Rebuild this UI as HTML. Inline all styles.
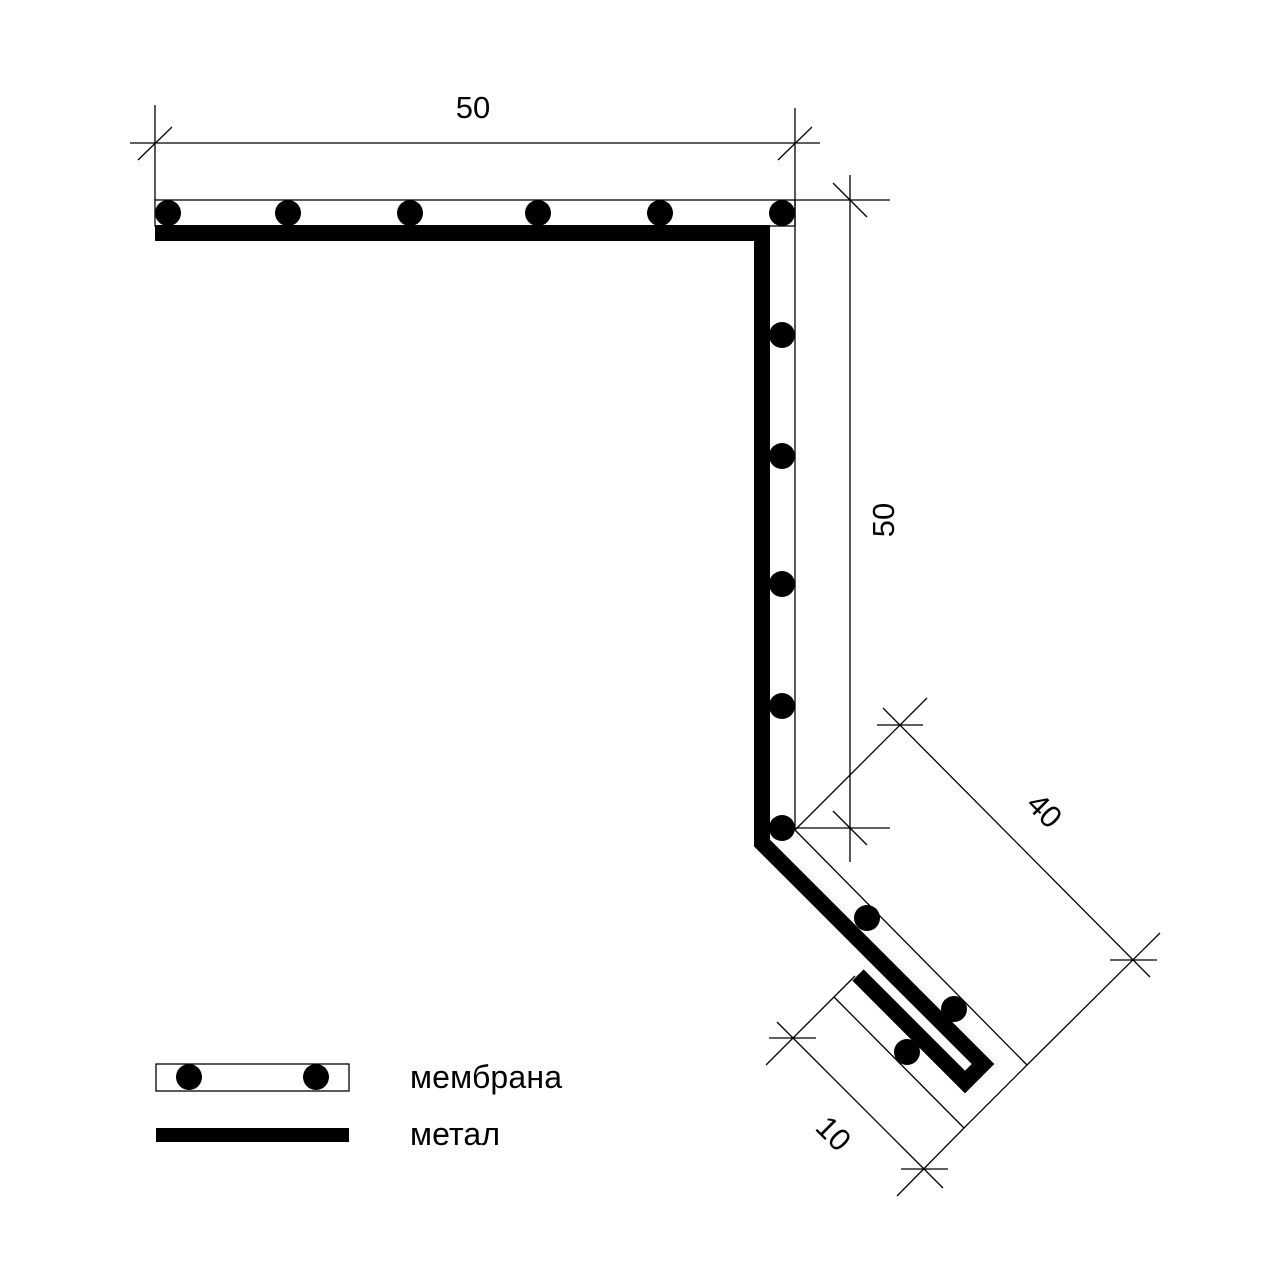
<!DOCTYPE html>
<html><head><meta charset="utf-8"><style>html,body{margin:0;padding:0;background:#fff}svg{display:block}</style></head>
<body>
<svg width="1280" height="1280" viewBox="0 0 1280 1280" xmlns="http://www.w3.org/2000/svg" font-family="'Liberation Sans','DejaVu Sans',sans-serif">
<g stroke="#000" stroke-width="1.3" fill="none">
<line x1="130" y1="143" x2="820" y2="143"/>
<line x1="155" y1="105" x2="155" y2="200"/>
<line x1="795" y1="108" x2="795" y2="200"/>
<line x1="138" y1="160" x2="172" y2="127"/>
<line x1="778" y1="160" x2="812" y2="127"/>
<line x1="850" y1="175" x2="850" y2="862"/>
<line x1="795" y1="200" x2="890" y2="200"/>
<line x1="795" y1="828" x2="890" y2="828"/>
<line x1="833" y1="183" x2="867" y2="217"/>
<line x1="833" y1="811" x2="867" y2="845"/>
<rect x="155" y="200" width="640" height="26"/>
<line x1="795" y1="200" x2="795" y2="830"/>
<line x1="795" y1="830" x2="1027" y2="1065"/>
<line x1="1027" y1="1065" x2="964" y2="1128"/>
<line x1="834" y1="997" x2="964" y2="1128"/>
<line x1="834" y1="997" x2="855" y2="976"/>
<line x1="795" y1="830" x2="927" y2="698"/>
<line x1="1027" y1="1065" x2="1160" y2="933"/>
<line x1="883" y1="708" x2="1150" y2="977"/>
<line x1="877" y1="725" x2="923" y2="725"/>
<line x1="1110" y1="960" x2="1157" y2="960"/>
<line x1="834" y1="997" x2="766" y2="1065"/>
<line x1="964" y1="1128" x2="897" y2="1196"/>
<line x1="777" y1="1022" x2="943" y2="1188"/>
<line x1="769" y1="1038" x2="816" y2="1038"/>
<line x1="901" y1="1169" x2="948" y2="1169"/>
<rect x="156" y="1064" width="193" height="27"/>
</g>
<path d="M155,233 H762 V843 L983,1064 L965,1082 L858,975" stroke="#000" stroke-width="16" fill="none" stroke-linejoin="miter"/>
<rect x="156" y="1128" width="193" height="14" fill="#000"/>
<g fill="#000">
<circle cx="168" cy="213" r="13"/><circle cx="288" cy="213" r="13"/><circle cx="410" cy="213" r="13"/>
<circle cx="538" cy="213" r="13"/><circle cx="660" cy="213" r="13"/><circle cx="782" cy="213" r="13"/>
<circle cx="782" cy="335" r="13"/><circle cx="782" cy="456" r="13"/><circle cx="782" cy="584" r="13"/>
<circle cx="782" cy="706" r="13"/><circle cx="782" cy="828" r="13"/>
<circle cx="867" cy="918" r="13"/><circle cx="954" cy="1009" r="13"/><circle cx="907" cy="1052" r="13"/>
<circle cx="189" cy="1077" r="13"/><circle cx="316" cy="1077" r="13"/>
</g>
<g fill="#000" font-size="31">
<text x="473" y="118" text-anchor="middle">50</text>
<text transform="translate(894,520) rotate(-90)" text-anchor="middle">50</text>
<text transform="translate(1037,818) rotate(45)" text-anchor="middle">40</text>
<text transform="translate(826,1141) rotate(45)" text-anchor="middle">10</text>
<text x="410" y="1088" font-size="32" textLength="152">мембрана</text>
<text x="410" y="1145" font-size="32" textLength="90">метал</text>
</g>
</svg>
</body></html>
